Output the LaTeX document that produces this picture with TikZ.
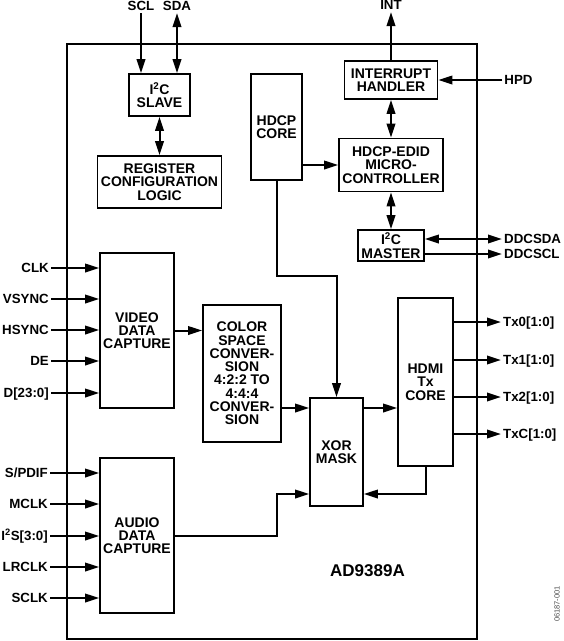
\documentclass[tikz,border=0pt]{standalone}
\usepackage{fontspec}
\setmainfont{Liberation Sans}
\usetikzlibrary{arrows.meta}

\begin{document}
\begin{tikzpicture}[x=1pt,y=-1pt,
  every node/.style={font=\bfseries\fontsize{14}{13.3}\selectfont},
  blk/.style={draw,line width=1.8pt,align=center,inner sep=0pt},
  pin/.style={inner sep=2pt,text height=9.7pt,text depth=0pt,font=\bfseries\fontsize{13.3}{14}\selectfont},
  wire/.style={line width=2pt,-{Triangle[length=14pt,width=8.5pt]}},
  bus/.style={line width=2pt,{Triangle[length=14pt,width=8.5pt]}-{Triangle[length=14pt,width=8.5pt]}}]
  \useasboundingbox (0,0) rectangle (564,641);

  \node[draw,line width=2.2pt,minimum width=410pt,minimum height=595pt] (chip) at (272,341.5) {};

  \node[blk,minimum width=61pt,minimum height=42pt] (slave) at (159.5,95) {I\textsuperscript{2}C\\SLAVE};
  \node[blk,minimum width=124pt,minimum height=52pt] (reg) at (159.5,182) {REGISTER\\CONFIGURATION\\LOGIC};
  \node[blk,minimum width=51pt,minimum height=106pt] (hdcp) at (276.5,127) {HDCP\\CORE};
  \node[blk,minimum width=93pt,minimum height=38pt] (irq) at (391,80) {INTERRUPT\\HANDLER};
  \node[blk,minimum width=104pt,minimum height=53pt] (edid) at (391,165) {HDCP-EDID\\MICRO-\\CONTROLLER};
  \node[blk,minimum width=66pt,minimum height=31pt] (master) at (391,245.5) {I\textsuperscript{2}C\\MASTER};
  \node[blk,minimum width=74pt,minimum height=155pt] (vdc) at (137,330.5) {VIDEO\\DATA\\CAPTURE};
  \node[blk,minimum width=78pt,minimum height=137pt] (csc) at (242,373.5) {COLOR\\SPACE\\CONVER-\\SION\\4:2:2 TO\\4:4:4\\CONVER-\\SION};
  \node[blk,minimum width=53pt,minimum height=108pt] (xor) at (336.5,452) {XOR\\MASK};
  \node[blk,minimum width=55pt,minimum height=168pt] (hdmi) at (425.5,382) {HDMI\\Tx\\CORE};
  \node[blk,minimum width=74pt,minimum height=155pt] (adc) at (137,535.5) {AUDIO\\DATA\\CAPTURE};

  \node[pin] (scl) at (141,6) {SCL};
  \node[pin] (sda) at (177,6) {SDA};
  \node[pin] (int) at (391,5) {INT};
  \node[pin] (hpd) at (518.5,80) {HPD};
  \node[pin,anchor=west] (ddcsda) at (502,239) {DDCSDA};
  \node[pin,anchor=west] (ddcscl) at (502,254) {DDCSCL};

  \node[pin,anchor=east] (clk) at (51,268) {CLK};
  \node[pin,anchor=east] (vsync) at (51,299) {VSYNC};
  \node[pin,anchor=east] (hsync) at (51,330) {HSYNC};
  \node[pin,anchor=east] (de) at (51,361) {DE};
  \node[pin,anchor=east] (data) at (51,393) {D[23:0]};

  \node[pin,anchor=east] (spdif) at (50,473) {S/PDIF};
  \node[pin,anchor=east] (mclk) at (50,504) {MCLK};
  \node[pin,anchor=east] (iis) at (50,536) {I\textsuperscript{2}S[3:0]};
  \node[pin,anchor=east] (lrclk) at (50,567) {LRCLK};
  \node[pin,anchor=east] (sclk) at (50,598) {SCLK};

  \node[pin,anchor=west] (tx0) at (501,322) {Tx0[1:0]};
  \node[pin,anchor=west] (tx1) at (501,360) {Tx1[1:0]};
  \node[pin,anchor=west] (tx2) at (501,397) {Tx2[1:0]};
  \node[pin,anchor=west] (txc) at (501,434) {TxC[1:0]};

  \node[font=\bfseries\fontsize{17}{20}\selectfont] (part) at (367.5,571) {AD9389A};
  \node[font=\fontsize{7.5}{9}\selectfont,text=black!70,rotate=90] (fig) at (557,604) {06187-001};

  \coordinate (top) at (336,408);
  \coordinate (bot) at (336,494);

  \draw[wire] (scl) -- (scl |- slave.north);
  \draw[bus] (sda) -- (sda |- slave.north);
  \draw[bus] (slave) -- (reg);
  \draw[wire] (irq) -- (int);
  \draw[wire] (hpd) -- (irq);
  \draw[bus] (irq) -- (edid);
  \draw[wire] (hdcp.east |- edid) -- (edid);
  \draw[bus] (edid) -- (master);
  \draw[bus] (master.east |- ddcsda) -- (ddcsda);
  \draw[wire] (master.east |- ddcscl) -- (ddcscl);
  \draw[wire] (hdcp.south) -- ++(0,95) -| (xor.north);

  \foreach \n in {clk,vsync,hsync,de,data}
    \draw[wire] (\n) -- (\n -| vdc.west);
  \foreach \n in {spdif,mclk,iis,lrclk,sclk}
    \draw[wire] (\n) -- (\n -| adc.west);
  \foreach \n in {tx0,tx1,tx2,txc}
    \draw[wire] (hdmi.east |- \n) -- (\n);

  \draw[wire] (vdc) -- (vdc -| csc.west);
  \draw[wire] (csc.east |- top) -- (xor.west |- top);
  \draw[wire] (xor.east |- top) -- (hdmi.west |- top);
  \draw[wire] (hdmi.south) |- (xor.east |- bot);
  \draw[wire] (adc.east) -- ++(102,0) |- (xor.west |- bot);
\end{tikzpicture}
\end{document}
